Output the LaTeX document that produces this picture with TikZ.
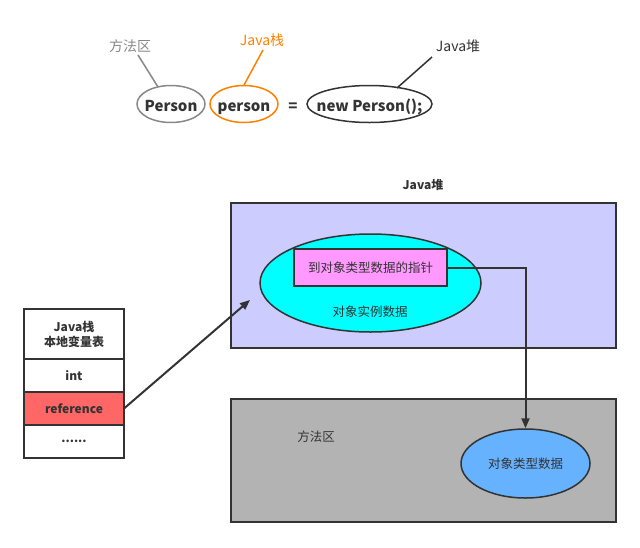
\documentclass[tikz,border=0pt]{standalone}
\usepackage{fontspec}
\setmainfont{Noto Sans CJK SC}
\usetikzlibrary{arrows.meta,shapes.geometric}
\definecolor{dk}{HTML}{333333}
\definecolor{gr}{HTML}{888888}
\definecolor{org}{HTML}{FF8000}
\definecolor{heap}{HTML}{CCCCFF}
\definecolor{cy}{HTML}{00FFFF}
\definecolor{pk}{HTML}{FF99FF}
\definecolor{meth}{HTML}{B3B3B3}
\definecolor{bl}{HTML}{66B2FF}
\definecolor{rd}{HTML}{FF6666}
\begin{document}
\begin{tikzpicture}[x=1pt,y=-1pt,
  lbl/.style={font=\fontsize{14}{16}\selectfont, inner sep=0pt},
  code/.style={font=\fontsize{15}{17}\selectfont\bfseries, text=dk, anchor=base, inner sep=0pt},
  oval/.style={ellipse, draw, line width=1.5pt, minimum width=#1, minimum height=37pt, inner sep=0pt},
  box/.style={draw=dk, line width=2pt},
  cell/.style={draw=dk, line width=1.5pt, minimum width=100pt, inner sep=0pt, outer sep=0pt, font=\fontsize{12}{15}\selectfont\bfseries, text=dk, align=center},
  txt/.style={font=\fontsize{12.5}{15}\selectfont, text=dk, inner sep=0pt},
  arr/.style={draw=dk, line width=2pt, -{Triangle[length=10pt,width=8pt]}}
]
\useasboundingbox (0,0) rectangle (640,547);
% top row
\node[oval=68pt, draw=gr] (p1) at (171,104) {};
\node[code] (t1) at (171,111) {Person};
\node[oval=68pt, draw=org] (p2) at (244,104) {};
\node[code] (t2) at (244,111) {person};
\node[code] (eq) at (293,111) {=};
\node[oval=125pt, draw=dk] (p3) at (369.5,104) {};
\node[code] (t3) at (369.5,111) {new Person();};
\node[lbl, text=gr] (l1) at (130,46) {方法区};
\node[lbl, text=org] (l2) at (262,40) {Java栈};
\node[lbl, text=dk] (l3) at (458,46) {Java堆};
\coordinate (a1) at (138,55); \coordinate (b1) at (158,87);
\coordinate (a2) at (263,50); \coordinate (b2) at (244,85);
\coordinate (a3) at (432,57); \coordinate (b3) at (397,88);
\draw[gr, line width=1.5pt] (a1) -- (b1);
\draw[org, line width=1.5pt] (a2) -- (b2);
\draw[dk, line width=1.5pt] (a3) -- (b3);
% heap
\node[font=\fontsize{12}{14}\selectfont\bfseries, text=dk] (hl) at (423,185) {Java堆};
\draw[box, fill=heap] (231,203) rectangle (616,348);
\node[ellipse, draw=dk, line width=1.5pt, fill=cy, minimum width=221pt, minimum height=98pt, inner sep=0pt] (obj) at (370.5,283) {};
\node[draw=dk, line width=2pt, fill=pk, minimum width=153pt, minimum height=37pt, inner sep=0pt, font=\fontsize{12.5}{15}\selectfont, text=dk] (ptr) at (370.5,267.5) {到对象类型数据的指针};
\node[txt] (od) at (370,312) {对象实例数据};
% method area
\draw[box, fill=meth] (231,399) rectangle (616,522);
\node[txt] (ma) at (316,437) {方法区};
\node[ellipse, draw=dk, line width=1.5pt, fill=bl, minimum width=129pt, minimum height=69pt, inner sep=0pt, font=\fontsize{12.5}{15}\selectfont, text=dk] (td) at (525.5,463.5) {对象类型数据};
% stack table
\node[cell, minimum height=50pt, anchor=north west] (c0) at (24,309) {Java栈\\本地变量表};
\node[cell, minimum height=33pt, anchor=north] (c1) at (c0.south) {int};
\node[cell, minimum height=33pt, anchor=north, fill=rd] (c2) at (c1.south) {reference};
\node[cell, minimum height=33pt, anchor=north] (c3) at (c2.south) {......};
% arrows
\coordinate (tip) at (250,300);
\draw[arr] (c2.east) -- (tip);
\draw[arr] (ptr.east) -- (td.north |- ptr.east) -- (td.north);
\end{tikzpicture}
\end{document}
